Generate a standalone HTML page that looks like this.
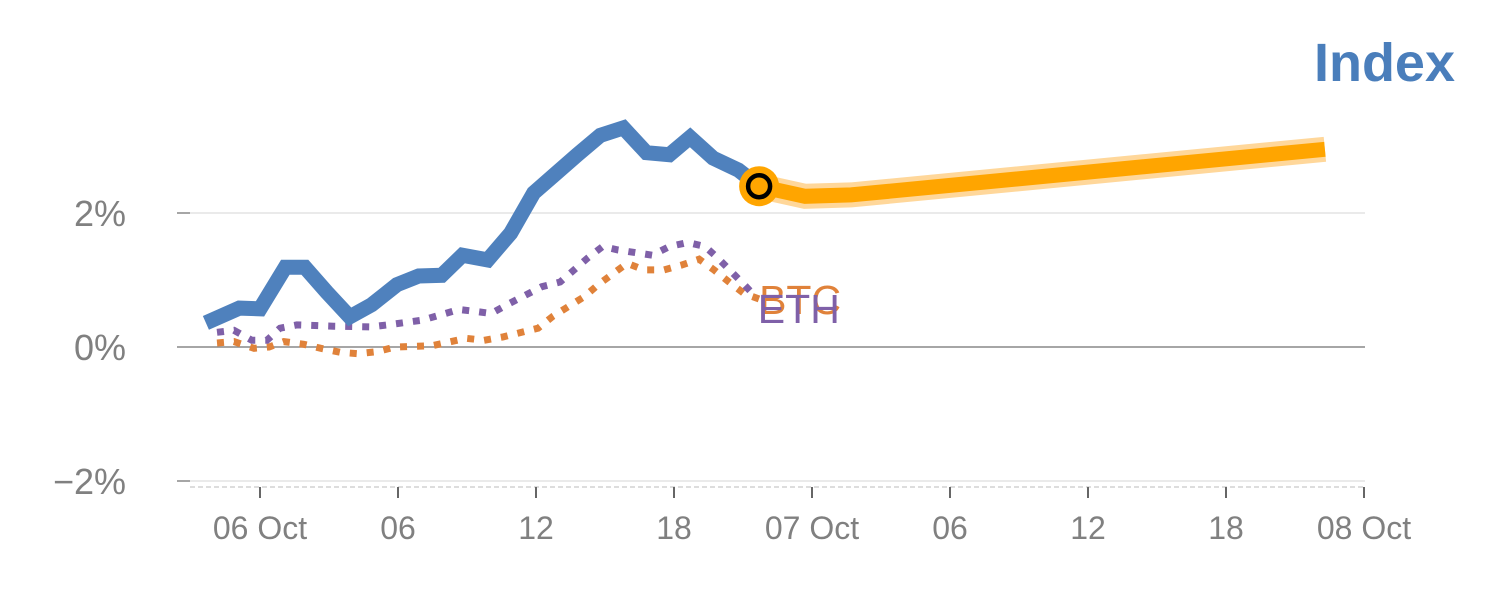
<!DOCTYPE html>
<html><head><meta charset="utf-8"><style>
body{margin:0;background:#fff;}
svg{display:block;font-family:"Liberation Sans",sans-serif;}
</style></head><body>
<svg id="chart" width="1500" height="600" viewBox="0 0 1500 600">
<text x="1455" y="81" text-anchor="end" font-size="54" font-weight="bold" fill="#4a7ebb">Index</text>
<g id="grid"></g><g id="axes"></g><g id="series"></g>
</svg>
<script>
// data (hours since 06 Oct 00:00, values in %)
const yTicks=[2,0,-2];
const yTickLabels=["2%","0%","\u22122%"];
const xTicks=[0,6,12,18,24,30,36,42,48];
const xTickLabels=["06 Oct","06","12","18","07 Oct","06","12","18","08 Oct"];
const indexTimes=[-2.35,-0.9,0,1.1,1.95,2.9,3.9,4.85,5.95,6.9,7.9,8.8,9.9,10.9,11.9,12.8,13.8,14.8,15.8,16.8,17.8,18.7,19.7,20.8,21.7];
const indexValues=[0.36,0.58,0.57,1.19,1.19,0.82,0.45,0.63,0.93,1.06,1.07,1.37,1.3,1.7,2.3,2.57,2.87,3.16,3.27,2.9,2.87,3.13,2.82,2.64,2.4];
const forecastTimes=[21.7,23.7,25.7,46.3];
const forecastValues=[2.4,2.25,2.27,2.95];
const ethTimes=[-1.87,-1.13,-0.35,0.3,0.87,1.6,3.2,4.8,5.55,7.05,8.65,9.4,10.05,10.85,12.25,13.05,14.25,14.9,15.55,17.05,17.8,18.6,19.35,19.9,21.05,21.6];
const ethValues=[0.22,0.25,0.1,0.1,0.28,0.33,0.31,0.3,0.33,0.4,0.56,0.53,0.5,0.65,0.9,0.97,1.33,1.5,1.45,1.37,1.5,1.56,1.5,1.33,0.93,0.73];
const btcTimes=[-1.87,-1.13,-0.26,0.39,1.04,1.91,2.65,3.52,4.26,5.08,5.87,7.48,8.96,9.74,10.57,12.09,12.74,14.09,14.74,15.96,16.7,17.57,18.3,19.09,19.74,20.39,21.04,21.83];
const btcValues=[0.06,0.08,-0.02,0.0,0.08,0.04,-0.02,-0.08,-0.1,-0.07,0.0,0.02,0.13,0.1,0.15,0.28,0.46,0.75,0.94,1.25,1.15,1.15,1.22,1.31,1.15,0.97,0.8,0.7];

const X=t=>260+t*23;
const Y=v=>347-v*67;
const NS="http://www.w3.org/2000/svg";
function mk(parent,tag,attrs){const e=document.createElementNS(NS,tag);for(const k in attrs)e.setAttribute(k,attrs[k]);document.getElementById(parent).appendChild(e);return e;}
function pts(ts,vs){return ts.map((t,i)=>X(t).toFixed(1)+","+Y(vs[i]).toFixed(1)).join(" ");}

yTicks.forEach((v,i)=>{
  const g=mk('grid','line',{x1:190,x2:1365,y1:Y(v),y2:Y(v),stroke:v===0?'#888':'#e4e4e4','stroke-width':1.5});
  
  
  const tk=mk('axes','line',{x1:177,x2:190,y1:Y(v),y2:Y(v),stroke:'#888','stroke-width':1.5});
  
  
  const tx=mk('axes','text',{x:126,y:Y(v)+13,'text-anchor':'end','font-size':36,fill:'#808080'});
  tx.textContent=yTickLabels[i];
  
  
});
const base=mk('grid','line',{x1:190,x2:1365,y1:487,y2:487,stroke:'#ddd','stroke-width':2,'stroke-dasharray':'5 3'});


xTicks.forEach((t,i)=>{
  const tk=mk('axes','line',{x1:X(t),x2:X(t),y1:487,y2:498,stroke:'#666','stroke-width':2});
  
  
  const tx=mk('axes','text',{x:X(t),y:539,'text-anchor':'middle','font-size':32,fill:'#808080'});
  tx.textContent=xTickLabels[i];
  
  
});

const btc=mk('series','polyline',{points:pts(btcTimes,btcValues),fill:'none',stroke:'#e0823a','stroke-width':7,'stroke-dasharray':'7 10'});


const eth=mk('series','polyline',{points:pts(ethTimes,ethValues),fill:'none',stroke:'#7f60a8','stroke-width':7,'stroke-dasharray':'7 10'});


const bl=mk('series','text',{x:X(btcTimes[btcTimes.length-1])-3,y:Y(btcValues[btcValues.length-1])+14,'font-size':41,fill:'#e0823a'});
bl.textContent='BTC';


const el=mk('series','text',{x:X(ethTimes[ethTimes.length-1])+1,y:Y(ethValues[ethValues.length-1])+25,'font-size':41,fill:'#7f60a8'});
el.textContent='ETH';



const idx=mk('series','polyline',{points:pts(indexTimes,indexValues),fill:'none',stroke:'#4f81bd','stroke-width':15,'stroke-linejoin':'miter'});


const halo=mk('series','polyline',{points:pts(forecastTimes,forecastValues),fill:'none',stroke:'#ffd79a','stroke-width':25});


const fc=mk('series','polyline',{points:pts(forecastTimes,forecastValues),fill:'none',stroke:'#ffa500','stroke-width':15});


const cx=X(indexTimes[indexTimes.length-1]),cy=Y(indexValues[indexValues.length-1]);
const c1=mk('series','circle',{cx:cx,cy:cy,r:20,fill:'#ffa500'});


const c2=mk('series','circle',{cx:cx,cy:cy,r:11,fill:'#ffa500',stroke:'#000','stroke-width':4.5});


</script>
</body></html>
